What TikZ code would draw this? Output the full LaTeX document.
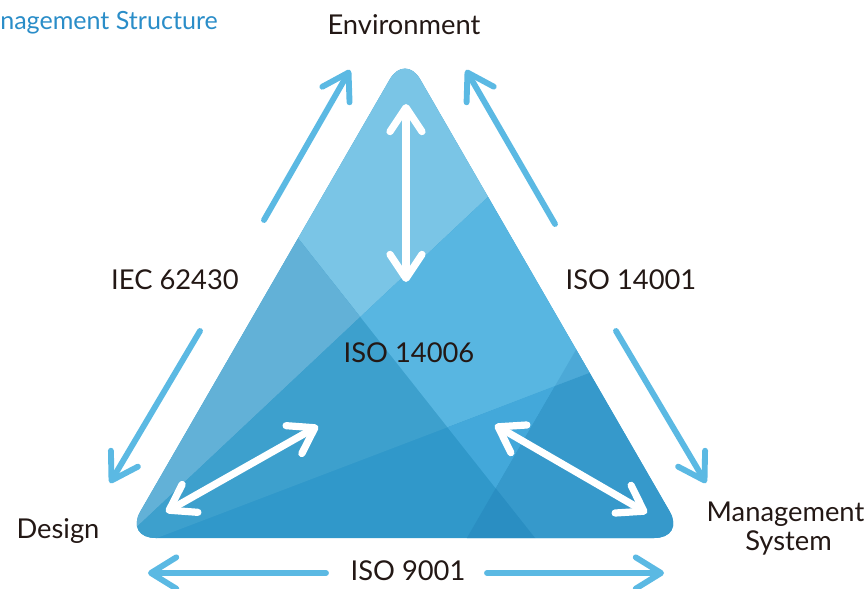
\documentclass[tikz,border=0pt]{standalone}
\usepackage{fontspec}
\setmainfont{Lato}
\usetikzlibrary{arrows.meta}
\definecolor{cTop}{HTML}{7AC5E6}
\definecolor{cLeft}{HTML}{62B1D7}
\definecolor{cRTop}{HTML}{58B6E1}
\definecolor{cSmall}{HTML}{4CA9D7}
\definecolor{cMid}{HTML}{3DA0CD}
\definecolor{cBot}{HTML}{3098CA}
\definecolor{cBand}{HTML}{43A8DA}
\definecolor{cRLow}{HTML}{3699CB}
\definecolor{cTiny}{HTML}{2A8EC2}
\definecolor{cArrow}{HTML}{5BB9E3}
\definecolor{cText}{HTML}{231815}
\definecolor{cTitle}{HTML}{2A8DC8}
\begin{document}
\begin{tikzpicture}[x=0.75pt,y=-0.75pt,
  lbl/.style={text=cText, font=\fontsize{20.5}{24}\selectfont, inner sep=0pt, anchor=base},
  outarrow/.style={draw=cArrow, line width=4.4pt, line cap=round, line join=round,
    -{Straight Barb[length=19pt,width=23.5pt,round]}},
  inarrow/.style={draw=white, line width=5.4pt, line cap=round, line join=round,
    {Straight Barb[length=18pt,width=24pt,round]}-{Straight Barb[length=18pt,width=24pt,round]}},
  tri/.style={rounded corners=23pt}]
\useasboundingbox (0,0) rectangle (868,589);

% triangle vertices and facet points
\coordinate (A) at (405,53);
\coordinate (B) at (125,538);
\coordinate (C) at (685,538);
\coordinate (M) at (545,295.5);
\coordinate (Q) at (360.3,316.9);
\coordinate (R) at (447.5,427.3);
\coordinate (S) at (555,386);
\coordinate (T) at (495.7,488.3);

\fill[cBot, tri] (M) -- (A) -- (B) -- (C) -- cycle;
\begin{scope}
  \clip[tri] (M) -- (A) -- (B) -- (C) -- cycle;
  \fill[cTop] (Q) -- (110,0) -- (697.5,0) -- cycle;
  \fill[cLeft] (Q) -- (110,0) -- (0,0) -- (0,655.5) -- cycle;
  \fill[cMid] (Q) -- (R) -- (103.3,558.4) -- cycle;
  \fill[cRTop] (Q) -- (R) -- (868,267.1) -- (868,0) -- (697.5,0) -- cycle;
  \fill[cSmall] (S) -- (700,136) -- (868,136) -- (868,267.1) -- cycle;
  \fill[cBand] (R) -- (S) -- (T) -- cycle;
  \fill[cRLow] (S) -- (868,267.1) -- (868,620) -- (599.8,620) -- (T) -- cycle;
  \fill[cTiny] (T) -- (599.8,620) -- (419.4,620) -- cycle;
\end{scope}

% white inner arrows
\coordinate (w1a) at (406,104);
\coordinate (w1b) at (406,282);
\coordinate (w2a) at (166,512);
\coordinate (w2b) at (318,426);
\coordinate (w3a) at (495,425);
\coordinate (w3b) at (647,513);
\draw[inarrow] (w1a) -- (w1b);
\draw[inarrow] (w2a) -- (w2b);
\draw[inarrow] (w3a) -- (w3b);

% outer arrows
\coordinate (tlT) at (264,220);
\coordinate (tlH) at (350,70);
\coordinate (trT) at (555,224);
\coordinate (trH) at (466,70);
\coordinate (ldT) at (200,331);
\coordinate (ldH) at (110,483);
\coordinate (rdT) at (616,331);
\coordinate (rdH) at (706,483);
\coordinate (blT) at (326,573);
\coordinate (blH) at (148,573);
\coordinate (brT) at (487,573);
\coordinate (brH) at (664,573);
\draw[outarrow] (tlT) -- (tlH);
\draw[outarrow] (trT) -- (trH);
\draw[outarrow] (ldT) -- (ldH);
\draw[outarrow] (rdT) -- (rdH);
\draw[outarrow] (blT) -- (blH);
\draw[outarrow] (brT) -- (brH);

% labels
\node[text=cTitle, font=\fontsize{18.8}{22}\selectfont, inner sep=0pt, anchor=base west] (title) at (0,29) {nagement Structure};
\node[lbl] (env) at (404,35) {Environment};
\node[lbl] (iec) at (175,289) {IEC 62430};
\node[lbl] (iso14001) at (631,289) {ISO 14001};
\node[lbl] (iso14006) at (409,362) {ISO 14006};
\node[lbl] (design) at (58,538) {Design};
\node[lbl] (mgmt) at (785.5,521.5) {Management};
\node[lbl] (sys) at (788.5,550.5) {System};
\node[lbl] (iso9001) at (408,580) {ISO 9001};
\end{tikzpicture}
\end{document}
